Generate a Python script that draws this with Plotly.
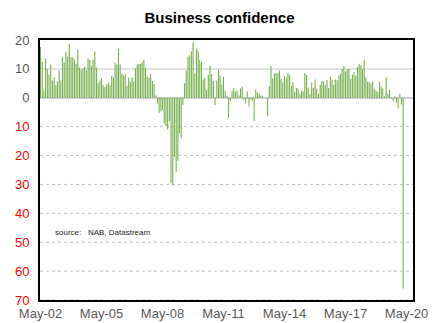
import pandas as pd
import plotly.graph_objects as go

# Monthly NAB business confidence, May-02 .. Mar-20
seg_a = [17.6, 12.5, 2.5, 13.6, 9.9, 8, 11.5, 6, 7, 4.3, 5.6, 9.4, 6, 14, 12.2, 16, 14.3, 18.7,
         14, 14, 13.3, 11.8, 16.7, 10.5, 9.7, 10.2, 10.7, 9.5, 13.6, 13.1, 11.1, 13.2, 16, 10.5,
         5, 6, 6.7, 4.3, 3.7, 4.6, 5.3, 4.3, 7.6, 7]
seg_b = [12.2, 11.5, 17, 11.5, 8.4, 7.8, 8.2, 4.2, 7, 5.5, 7, 5.7, 10.2, 11.5, 11.7, 11.7, 12.3,
         13.2, 10.4, 7.3]
seg_c = [6.9, 8.2, 5.8, 4.8, 0.8, -2, -5.3, -4.7, -4.2, -8.9, -9.8, -11, -8.1, -29.5, -30.2,
         -20.5, -25.6, -21.8, -12.3, -14, -2.4]
seg_d = [5, 9.4, 14.2, 14.6, 16, 19.2, 8.4, 17, 16.3, 13, 12.3, 6.3, 7, 2.8, 8, 11, 8.2, 5.8,
         -2.5, 6, 9.7, 7.6, 4.6, 7.3, 2.4, 0.6, -7, -1.2, 2.4, 3.4, 2.2, 2.4, 0.8, 3.2, 3.9, -0.8,
         -2, 2.2, -3, -0.5, -1, -8, 2.8, 1.8, 1.4, 0.8, 0.7, 0.2, 0, -6.4, 4.1, 11, 6.8, 8.4, 8.4,
         8.6]
seg_e = [9.4, 6.6, 5.3, 7.6, 6.9, 8.6, 8, 4.1, 5.5, 2.1, 3.4, 3.1, 1.4, 2.4, 2.3, 8.6, 7.9, 3.5,
         1.1, 5.3, 3.5, 6.3, 3.1, 1.3, 4.5, 5.9, 5.6, 4.4, 6.2, 3.4, 7.4, 6.3, 4.5, 6.3, 6.1, 7.8,
         8.3, 10, 11, 9.1, 9.8, 10, 6.6, 8, 8.8, 7.6, 10.6, 11.8, 11.3, 9.8, 13.2, 7, 5.5, 5.5,
         4.9, 5.7, 3.1, 2.4, 2, 5.6, 3.9, 3.2, 0.5, 7, 1.4, 2.8, 0.3, -1.3, 0.4, -1.7, -3.7, 1.4,
         -2.3, -66]
confidence = seg_a + seg_b + seg_c + seg_d + seg_e
months = pd.date_range("2002-05-01", periods=len(confidence), freq="MS")

x_tick_vals = pd.date_range("2002-05-01", "2020-05-01", freq="36MS")
x_tick_text = ["May-02", "May-05", "May-08", "May-11", "May-14", "May-17", "May-20"]
y_tick_vals = [20, 10, 0, -10, -20, -30, -40, -50, -60, -70]

GREEN = "rgba(112,173,71,0.995)"
GRAY_TXT = "#595959"
X_RANGE = ["2002-04-22", "2020-08-25"]

def y_label(v):
    if v < 0:
        return f'<span style="color:#FF0000">{abs(v)}</span>'
    return str(v)

fig = go.Figure()
fig.add_trace(go.Bar(x=months, y=confidence, marker_color=GREEN, marker_line_width=0,
                     width=1.63e9, hoverinfo="x+y"))

for v in y_tick_vals:
    if v in (0, 20):
        continue
    fig.add_hline(y=v, line_color="#d9d9d9" if v > 0 else "#bfbfbf",
                  line_width=1.5 if v > 0 else 1, line_dash="solid" if v > 0 else "dot",
                  layer="below")

FONT = "Liberation Sans, Arial, sans-serif"
fig.update_layout(
    width=439, height=323,
    margin=dict(l=40, r=26, t=40, b=23, autoexpand=False),
    paper_bgcolor="white", plot_bgcolor="white",
    showlegend=False,
    title=dict(text="<b>Business confidence</b>", x=0.5, xanchor="center", y=0.945,
               yanchor="middle", font=dict(family=FONT, size=15, color="black")),
    font=dict(family=FONT, size=13, color=GRAY_TXT),
    xaxis=dict(type="date", range=X_RANGE, automargin=False,
               tickvals=list(x_tick_vals), ticktext=x_tick_text,
               showgrid=False, zeroline=False, ticks="",
               showline=True, linecolor="black", linewidth=2, mirror=True,
               tickfont=dict(size=13, color=GRAY_TXT)),
    xaxis2=dict(type="date", range=X_RANGE, overlaying="x", automargin=False,
                anchor="free", position=70 / 90, side="bottom",
                tickvals=list(x_tick_vals), showticklabels=False,
                ticks="outside", ticklen=4, tickcolor="#bfbfbf", tickwidth=1,
                showgrid=False, showline=False, zeroline=False),
    yaxis=dict(range=[-70, 20], tickvals=y_tick_vals, automargin=False,
               ticktext=[y_label(v) for v in y_tick_vals],
               showgrid=False, zeroline=True, zerolinecolor="#d0d0d0", zerolinewidth=2,
               showline=True, linecolor="black", linewidth=2, mirror=True,
               ticks="", ticklabelstandoff=6,
               tickfont=dict(size=13, color=GRAY_TXT)),
)

fig.add_annotation(text="source:   NAB, Datastream", xref="paper", yref="paper",
                   x=0.035, y=(-46.8 + 70) / 90, xanchor="left", yanchor="middle",
                   showarrow=False, font=dict(family=FONT, size=8, color="#222222"))

fig.write_html("out.html")
